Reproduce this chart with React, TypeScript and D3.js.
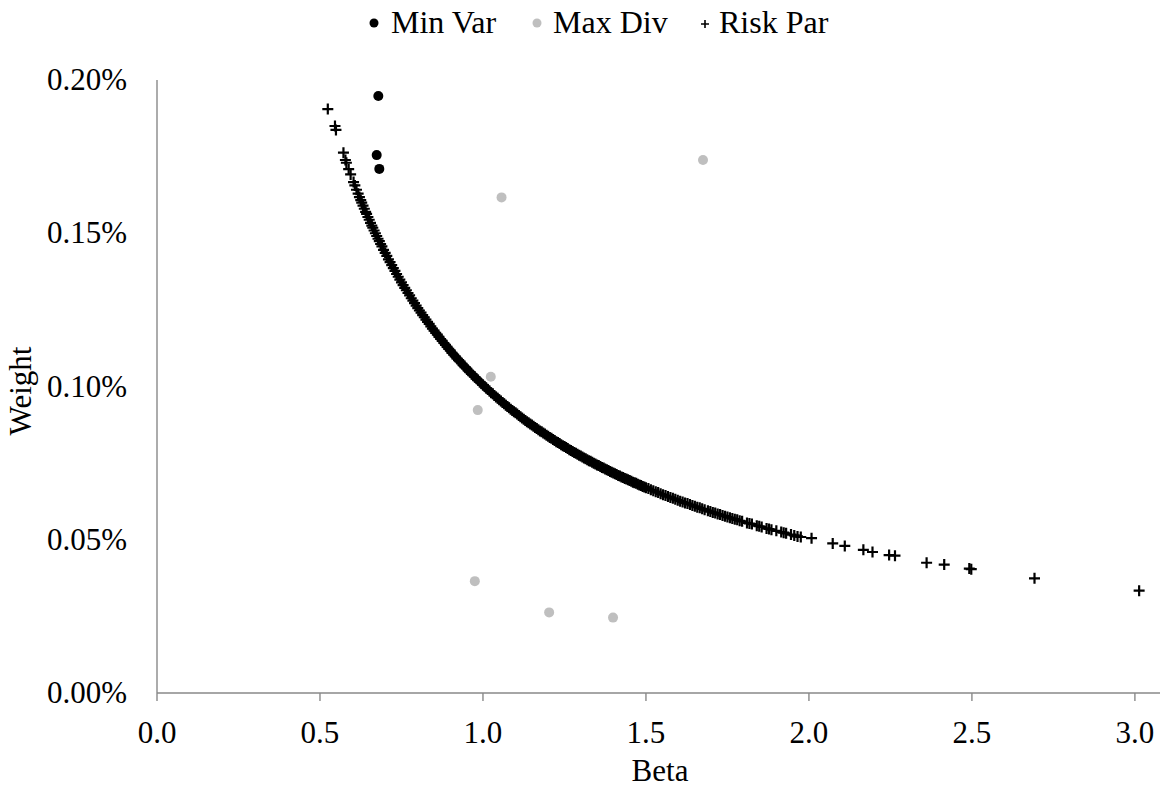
import React from "react";
import * as d3 from "d3";

const minVarBeta = [0.679, 0.674, 0.682];
const minVarWeight = [0.1948, 0.1755, 0.171];

const maxDivBeta = [1.675, 1.057, 1.024, 0.984, 0.975, 1.203, 1.399];
const maxDivWeight = [0.1739, 0.1617, 0.1032, 0.0923, 0.0365, 0.0263, 0.0246];

const riskParBeta = [
  0.524, 0.546, 0.549, 0.572, 0.578, 0.581, 0.588, 0.594, 0.603, 0.607, 0.612, 0.617, 0.621, 0.625, 0.628,
  0.632, 0.636, 0.64, 0.643, 0.647, 0.651, 0.655, 0.659, 0.662, 0.666, 0.67, 0.674, 0.678, 0.682, 0.686,
  0.69, 0.695, 0.7, 0.71, 0.72, 0.73, 0.74, 0.75, 0.76, 0.77, 0.78, 0.79, 0.8, 0.81, 0.82, 0.83, 0.84,
  0.85, 0.86, 0.87, 0.88, 0.89, 0.9, 0.91, 0.92, 0.93, 0.94, 0.95, 0.96, 0.97, 0.98, 0.99, 1.0, 1.01,
  1.02, 1.03, 1.04, 1.05, 1.06, 1.07, 1.08, 1.09, 1.1, 1.11, 1.12, 1.13, 1.14, 1.15, 1.16, 1.17, 1.18,
  1.19, 1.2, 1.21, 1.22, 1.23, 1.24, 1.25, 1.26, 1.27, 1.28, 1.29, 1.3, 1.31, 1.32, 1.33, 1.34, 1.35,
  1.36, 1.37, 1.38, 1.39, 1.4, 1.41, 1.42, 1.43, 1.44, 1.45, 1.46, 1.47, 1.48, 1.49, 1.5, 1.515, 1.53,
  1.545, 1.56, 1.575, 1.59, 1.605, 1.62, 1.635, 1.65, 1.665, 1.68, 1.69, 1.705, 1.72, 1.735, 1.75, 1.765,
  1.78, 1.795, 1.81, 1.825, 1.84, 1.855, 1.87, 1.885, 1.9, 1.915, 1.93, 1.945, 1.955, 1.965, 1.975,
  2.008, 2.073, 2.11, 2.167, 2.195, 2.246, 2.264, 2.361, 2.415, 2.492, 2.498, 2.692, 3.013,
  0.705, 0.715, 0.725, 0.735, 0.745, 0.755, 0.765, 0.775, 0.785, 0.795, 0.805, 0.815, 0.825, 0.835,
  0.845, 0.855, 0.865, 0.875, 0.885, 0.895, 0.905, 0.915, 0.925, 0.935, 0.945, 0.955, 0.965, 0.975,
  0.985, 0.995, 1.005, 1.015, 1.025, 1.035, 1.045, 1.055, 1.065, 1.075, 1.085, 1.095, 1.105, 1.115,
  1.125, 1.135, 1.145, 1.155, 1.165, 1.175, 1.185, 1.195, 1.205, 1.215, 1.225, 1.235, 1.245, 1.255,
  1.265, 1.275, 1.285, 1.295, 1.305, 1.315, 1.325, 1.335, 1.345, 1.355, 1.365, 1.375, 1.385, 1.395,
  1.405, 1.415, 1.425, 1.435, 1.445, 1.455, 1.465, 1.475, 1.485, 1.495, 1.5075, 1.5225, 1.5375,
  1.5525, 1.5675, 1.5825, 1.5975, 1.6125, 1.6275, 1.6425, 1.6575, 1.6725, 1.6975, 1.7125, 1.7275,
  1.7425, 1.7575, 1.7725, 1.7875, 1.8175, 1.8475, 1.8775, 1.9225,
];
const riskParWeight = [
  0.1905, 0.185, 0.1837, 0.1763, 0.1739, 0.173, 0.1709, 0.1692, 0.1667, 0.1656, 0.1642, 0.1629, 0.1618,
  0.1608, 0.16, 0.159, 0.158, 0.157, 0.1563, 0.1553, 0.1544, 0.1534, 0.1525, 0.1518, 0.1509, 0.15,
  0.1491, 0.1482, 0.1474, 0.1465, 0.1457, 0.1446, 0.1436, 0.1415, 0.1396, 0.1377, 0.1358, 0.134, 0.1322,
  0.1305, 0.1288, 0.1272, 0.1256, 0.1241, 0.1226, 0.1211, 0.1196, 0.1182, 0.1169, 0.1155, 0.1142, 0.1129,
  0.1117, 0.1104, 0.1092, 0.1081, 0.1069, 0.1058, 0.1047, 0.1036, 0.1026, 0.1015, 0.1005, 0.0995,
  0.0985, 0.0976, 0.0966, 0.0957, 0.0948, 0.0939, 0.0931, 0.0922, 0.0914, 0.0905, 0.0897, 0.0889,
  0.0882, 0.0874, 0.0866, 0.0859, 0.0852, 0.0845, 0.0838, 0.0831, 0.0824, 0.0817, 0.081, 0.0804,
  0.0798, 0.0791, 0.0785, 0.0779, 0.0773, 0.0767, 0.0761, 0.0756, 0.075, 0.0744, 0.0739, 0.0734,
  0.0728, 0.0723, 0.0718, 0.0713, 0.0708, 0.0703, 0.0698, 0.0693, 0.0688, 0.0684, 0.0679, 0.0674,
  0.067, 0.0663, 0.0657, 0.065, 0.0644, 0.0638, 0.0632, 0.0626, 0.062, 0.0615, 0.0609, 0.0604, 0.0598,
  0.0595, 0.0589, 0.0584, 0.0579, 0.0574, 0.0569, 0.0565, 0.056, 0.0555, 0.0551, 0.0546, 0.0542,
  0.0537, 0.0533, 0.0529, 0.0525, 0.0521, 0.0517, 0.0514, 0.0511, 0.0509, 0.0505, 0.0488, 0.048,
  0.0467, 0.046, 0.045, 0.0448, 0.0425, 0.0419, 0.0406, 0.0404, 0.0374, 0.0334,
  0.1426, 0.1406, 0.1386, 0.1367, 0.1349, 0.1331, 0.1314, 0.1297, 0.128, 0.1264, 0.1248, 0.1233, 0.1218,
  0.1204, 0.1189, 0.1175, 0.1162, 0.1149, 0.1136, 0.1123, 0.111, 0.1098, 0.1086, 0.1075, 0.1063, 0.1052,
  0.1041, 0.1031, 0.102, 0.101, 0.1, 0.099, 0.098, 0.0971, 0.0962, 0.0953, 0.0944, 0.0935, 0.0926,
  0.0918, 0.091, 0.0901, 0.0893, 0.0885, 0.0878, 0.087, 0.0863, 0.0855, 0.0848, 0.0841, 0.0834, 0.0827,
  0.082, 0.0814, 0.0807, 0.0801, 0.0794, 0.0788, 0.0782, 0.0776, 0.077, 0.0764, 0.0758, 0.0753, 0.0747,
  0.0742, 0.0736, 0.0731, 0.0726, 0.072, 0.0715, 0.071, 0.0705, 0.07, 0.0696, 0.0691, 0.0686, 0.0681,
  0.0677, 0.0672, 0.0667, 0.066, 0.0654, 0.0647, 0.0641, 0.0635, 0.0629, 0.0623, 0.0618, 0.0612,
  0.0606, 0.0601, 0.0592, 0.0587, 0.0582, 0.0577, 0.0572, 0.0567, 0.0562, 0.0553, 0.0544, 0.0535,
  0.0523,
];

const xTicks = [0, 0.5, 1.0, 1.5, 2.0, 2.5, 3.0];
const yTicks = [0, 0.05, 0.1, 0.15, 0.2];
const legendLabels = ["Min Var", "Max Div", "Risk Par"];

const FONT = "Liberation Serif";
const AXIS = "#898989";
const GRAY = "#bfbfbf";

export default function App() {
  const x = d3.scaleLinear().domain([0, 3.077]).range([157, 1160]);
  const y = d3.scaleLinear().domain([0, 0.2]).range([693, 80]);
  const fmtX = d3.format(".1f");
  const fmtY = (v: number) => v.toFixed(2) + "%";
  const tStyle = { fontFamily: FONT, fontSize: 31 };
  const lStyle = { fontFamily: FONT, fontSize: 32 };

  return (
    <svg width={1164} height={789} style={{ position: "absolute", left: 0, top: 0, background: "#fff" }}>
      <rect width={1164} height={789} fill="#fff" />
      {/* legend */}
      <g fill="#000">
        <circle cx={374} cy={23} r={4.5} fill="#000" />
        <text x={391} y={33} style={lStyle}>{legendLabels[0]}</text>
        <circle cx={537} cy={23} r={4.5} fill={GRAY} />
        <text x={553} y={33} style={lStyle}>{legendLabels[1]}</text>
        <path d="M701,24h8M705,20v8" stroke="#000" strokeWidth={1.6} />
        <text x={719} y={33} style={lStyle}>{legendLabels[2]}</text>
      </g>

      {/* axes */}
      <line x1={157} x2={157} y1={80} y2={693} stroke={AXIS} strokeWidth={1.4} />
      <line x1={157} x2={1160} y1={693} y2={693} stroke={AXIS} strokeWidth={1.4} />
      {xTicks.map((t) => (
        <g key={"xt" + t}>
          <line x1={x(t)} x2={x(t)} y1={693} y2={701} stroke={AXIS} strokeWidth={1.4} />
          <text x={x(t)} y={743} style={tStyle} textAnchor="middle" fill="#000">
            {fmtX(t)}
          </text>
        </g>
      ))}
      {yTicks.map((t) => (
        <text key={"yt" + t} x={127} y={y(t) + 10} style={tStyle} textAnchor="end" fill="#000">
          {fmtY(t)}
        </text>
      ))}
      <text x={660} y={781} style={tStyle} textAnchor="middle" fill="#000">
        Beta
      </text>
      <text transform={`translate(31,391) rotate(-90)`} style={tStyle} textAnchor="middle" fill="#000">
        Weight
      </text>

      {/* series */}
      <g>
        {maxDivBeta.map((b, i) => (
          <circle key={"md" + i} cx={x(b)} cy={y(maxDivWeight[i])} r={5} fill={GRAY} />
        ))}
      </g>
      <g>
        {minVarBeta.map((b, i) => (
          <circle key={"mv" + i} cx={x(b)} cy={y(minVarWeight[i])} r={5} fill="#000" />
        ))}
      </g>
      <g stroke="#000" strokeWidth={2.2}>
        {riskParBeta.map((b, i) => {
          const cx = x(b);
          const cy = y(riskParWeight[i]);
          return <path key={"rp" + i} d={`M${cx - 5.5},${cy}h11M${cx},${cy - 5.5}v11`} />;
        })}
      </g>
    </svg>
  );
}
